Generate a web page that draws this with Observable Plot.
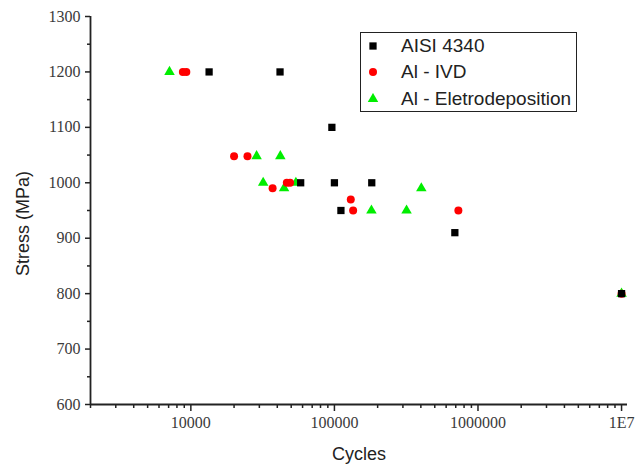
<!DOCTYPE html>
<html><head><meta charset="utf-8">
<script src="https://cdn.jsdelivr.net/npm/d3@7"></script>
<script src="https://cdn.jsdelivr.net/npm/@observablehq/plot@0.6"></script>
<style>
body{margin:0;background:#fff}
#wrap{position:relative;width:644px;height:467px}
#legend{position:absolute;left:360px;top:32px;width:217px;height:80px;border:1.5px solid #222;box-sizing:border-box;font-family:"Liberation Sans",Arial,sans-serif;font-size:19px;color:#222;background:#fff}
.row{position:absolute;left:0;height:20px;line-height:20px;white-space:nowrap}
.row svg{position:absolute;left:6px;top:4px}
.row span{position:absolute;left:40px;top:0}
#chart svg g[aria-label="y-axis tick label"] text, #chart svg g[aria-label="x-axis tick label"] text{font-family:"Liberation Serif","Times New Roman",serif}
</style>
</head><body>
<div id="wrap"><div id="chart"></div><div id="legend"></div></div>
<script>
// Series names
const seriesNames = ["AISI 4340", "Al - IVD", "Al - Eletrodeposition"];
// AISI 4340 (black squares)
const steelCycles = [13400, 41800, 96000, 58200, 100000, 182000, 111000, 690000, 10000000];
const steelStress = [1200, 1200, 1100, 1000, 1000, 1000, 950, 910, 800];
// Al - IVD (red circles)
const ivdCycles = [8800, 9300, 20000, 24800, 37100, 46600, 49100, 130000, 135000, 730000, 10000000];
const ivdStress = [1200, 1200, 1048, 1048, 990, 1000, 1000, 970, 950, 950, 800];
// Al - Eletrodeposition (green triangles)
const eleCycles = [7100, 28700, 42000, 31900, 44600, 53900, 403000, 181000, 318000, 10000000];
const eleStress = [1200, 1048, 1048, 1000, 990, 1000, 990, 950, 950, 800];
// Ticks
const xMajor = [10000, 100000, 1000000, 10000000];
const xLabels = ["10000", "100000", "1000000", "1E7"];
const yMajor = [600, 700, 800, 900, 1000, 1100, 1200, 1300];
const yMinor = [650, 750, 850, 950, 1050, 1150, 1250];
const xMinor = [];
for (const p of [1000, 10000, 100000, 1000000]) for (let k = 2; k <= 9; k++) if (k * p >= 2000 && k * p <= 11000000) xMinor.push(k * p);

const colors = ["#000000", "#ff0000", "#00ee00"];
const symbols = ["square", "circle", "triangle"];
const radii = [4.1, 4, 3.9];

const toRows = (c, s) => c.map((v, i) => ({cycles: v, stress: s[i]}));
const steel = toRows(steelCycles, steelStress);
const ivd = toRows(ivdCycles, ivdStress);
const ele = toRows(eleCycles, eleStress);

const serif = "'Liberation Serif', 'Times New Roman', serif";
const sans = "'Liberation Sans', Arial, sans-serif";
const axisStroke = "#222";
const chart = Plot.plot({
  width: 644, height: 467,
  marginLeft: 90, marginRight: 17, marginTop: 16, marginBottom: 63,
  x: {type: "log", domain: [2000, 11000000]},
  y: {domain: [600, 1300]},
  style: {fontFamily: serif, fontSize: "16px", background: "#fff"},
  marks: [
    Plot.axisY({ticks: yMajor, tickSize: 5, tickPadding: 5, tickFormat: d => String(d), label: null, color: "#3a3a3a", stroke: axisStroke, strokeWidth: 1.5, fontSize: 16, fontFamily: serif}),
    Plot.axisY({ticks: yMinor, tickSize: 3, text: null, label: null, stroke: axisStroke, strokeWidth: 1.5}),
    Plot.axisX({ticks: xMajor, tickSize: 7, tickPadding: 5, tickFormat: d => xLabels[xMajor.indexOf(d)], label: null, color: "#3a3a3a", stroke: axisStroke, strokeWidth: 1.5, fontSize: 16, fontFamily: serif}),
    Plot.axisX({ticks: xMinor, tickSize: 4, text: null, label: null, stroke: axisStroke, strokeWidth: 1.5}),
    Plot.ruleX([2000], {stroke: axisStroke, strokeWidth: 1.8}),
    Plot.ruleY([600], {stroke: axisStroke, strokeWidth: 1.8}),
    Plot.dot(ele, {x: "cycles", y: "stress", symbol: symbols[2], r: radii[2], fill: colors[2]}),
    Plot.dot(ivd, {x: "cycles", y: "stress", symbol: symbols[1], r: radii[1], fill: colors[1]}),
    Plot.dot(steel, {x: "cycles", y: "stress", symbol: symbols[0], r: radii[0], fill: colors[0]}),
    Plot.text(["Stress (MPa)"], {text: d => d, frameAnchor: "left", rotate: -90, dx: -67.5, dy: 13, lineAnchor: "middle", textAnchor: "middle", fontFamily: sans, fontSize: 18, fill: "#222"}),
    Plot.text(["Cycles"], {text: d => d, frameAnchor: "bottom", dy: 43, lineAnchor: "top", textAnchor: "middle", fontFamily: sans, fontSize: 18, fill: "#222"})
  ]
});
document.getElementById("chart").appendChild(chart);
// ensure serif tick labels
chart.querySelectorAll('g[aria-label$="tick label"] text').forEach(t => t.setAttribute("font-family", serif));
chart.querySelectorAll('g[aria-label$="tick label"]').forEach(g => g.setAttribute("font-family", serif));

// Legend
const legend = document.getElementById("legend");
const rowTops = [3.3, 29.3, 56];
seriesNames.forEach((name, i) => {
  const row = document.createElement("div");
  row.className = "row";
  row.style.top = (rowTops[i]) + "px";
  const r = radii[i];
  const sym = {square: d3.symbolSquare, circle: d3.symbolCircle, triangle: d3.symbolTriangle}[symbols[i]];
  const path = d3.symbol(sym, Math.PI * r * r)();
  row.innerHTML = `<svg width="12" height="12" viewBox="-6 -6 12 12"><path d="${path}" fill="${colors[i]}"/></svg><span>${name}</span>`;
  legend.appendChild(row);
});
</script>
</body></html>
